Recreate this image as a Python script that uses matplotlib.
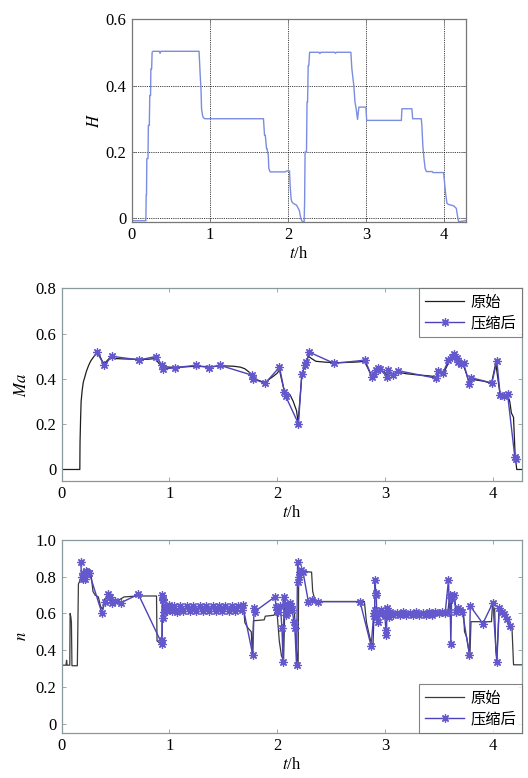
import matplotlib
matplotlib.use("Agg")
import matplotlib.pyplot as plt

# ── Fuentes ────────────────────────────────────────────────────────────────
plt.rcParams["font.family"] = ["Liberation Serif", "Noto Sans CJK SC"]
plt.rcParams["mathtext.fontset"] = "stix"
plt.rcParams["font.size"] = 12

# ── Datos: H (altura) ───────────────────────────────────────────────────────
h_t = [0.00, 0.178, 0.182, 0.186, 0.190, 0.205, 0.210, 0.222, 0.228, 0.238,
       0.242, 0.252, 0.258, 0.270, 0.350, 0.360, 0.370, 0.860, 0.875, 0.885,
       0.892, 0.905, 0.915, 0.935, 1.686, 1.700, 1.710, 1.725, 1.732, 1.748,
       1.755, 1.772, 1.964, 1.985, 2.020, 2.028, 2.040, 2.050, 2.070, 2.110,
       2.145, 2.165, 2.185, 2.208, 2.214, 2.220, 2.238, 2.245, 2.252, 2.260,
       2.268, 2.278, 2.400, 2.410, 2.420, 2.600, 2.610, 2.620, 2.807, 2.820,
       2.835, 2.845, 2.860, 2.875, 2.893, 2.910, 2.935, 3.000, 3.010, 3.025,
       3.455, 3.462, 3.590, 3.600, 3.710, 3.718, 3.730, 3.745, 3.760, 3.776,
       3.850, 3.860, 3.997, 4.012, 4.025, 4.040, 4.060, 4.125, 4.160, 4.180,
       4.190, 4.280]
h_val = [-0.007, -0.007, 0.07, 0.07, 0.18, 0.18, 0.28, 0.28, 0.37, 0.37,
         0.45, 0.45, 0.50, 0.503, 0.503, 0.497, 0.503, 0.503, 0.43, 0.39,
         0.33, 0.31, 0.303, 0.300, 0.300, 0.25, 0.25, 0.21, 0.21, 0.19,
         0.15, 0.140, 0.140, 0.143, 0.143, 0.10, 0.06, 0.05, 0.045, 0.040,
         0.025, 0.0, -0.01, -0.01, 0.05, 0.20, 0.20, 0.35, 0.35, 0.46,
         0.46, 0.50, 0.50, 0.496, 0.50, 0.50, 0.497, 0.50, 0.50, 0.45,
         0.42, 0.40, 0.35, 0.33, 0.298, 0.335, 0.335, 0.335, 0.295, 0.295,
         0.295, 0.33, 0.33, 0.30, 0.30, 0.28, 0.22, 0.18, 0.15, 0.141,
         0.141, 0.138, 0.138, 0.10, 0.07, 0.045, 0.042, 0.038, 0.03, 0.0,
         -0.01, -0.007]

# ── Datos: Ma original / comprimido ─────────────────────────────────────────
ma_t = [0.000, 0.168, 0.170, 0.175, 0.180, 0.190, 0.200, 0.215, 0.230, 0.250,
        0.270, 0.300, 0.325, 0.350, 0.380, 0.400, 0.450, 0.500, 0.600, 0.700,
        0.800, 0.870, 0.900, 0.935, 1.000, 1.100, 1.200, 1.300, 1.400, 1.500,
        1.600, 1.660, 1.700, 1.740, 1.770, 1.820, 1.889, 1.930, 1.960, 2.000,
        2.022, 2.040, 2.060, 2.080, 2.120, 2.150, 2.180, 2.195, 2.210, 2.230,
        2.260, 2.290, 2.320, 2.360, 2.450, 2.550, 2.650, 2.750, 2.810, 2.840,
        2.870, 2.900, 2.930, 2.960, 3.000, 3.020, 3.050, 3.080, 3.120, 3.200,
        3.300, 3.400, 3.480, 3.500, 3.540, 3.590, 3.640, 3.670, 3.700, 3.730,
        3.760, 3.785, 3.800, 3.850, 3.920, 3.990, 4.030, 4.050, 4.070, 4.100,
        4.140, 4.160, 4.175, 4.195, 4.210, 4.225, 4.280]
ma_raw = [0.0, 0.0, 0.12, 0.22, 0.30, 0.35, 0.385, 0.41, 0.435, 0.46,
          0.48, 0.50, 0.515, 0.505, 0.475, 0.47, 0.495, 0.49, 0.488, 0.487,
          0.487, 0.49, 0.47, 0.455, 0.452, 0.452, 0.455, 0.455, 0.455, 0.458,
          0.456, 0.452, 0.445, 0.43, 0.41, 0.395, 0.383, 0.40, 0.41, 0.425,
          0.44, 0.40, 0.36, 0.335, 0.33, 0.30, 0.26, 0.21, 0.30, 0.42,
          0.46, 0.50, 0.49, 0.478, 0.474, 0.472, 0.473, 0.475, 0.478, 0.45,
          0.42, 0.42, 0.445, 0.44, 0.43, 0.415, 0.43, 0.42, 0.43, 0.423,
          0.418, 0.414, 0.41, 0.43, 0.42, 0.47, 0.505, 0.49, 0.47, 0.46,
          0.42, 0.38, 0.40, 0.395, 0.39, 0.38, 0.47, 0.40, 0.33, 0.325,
          0.33, 0.30, 0.25, 0.23, 0.06, 0.0, 0.0]

mac_t = [0.325, 0.396, 0.464, 0.721, 0.873, 0.935, 0.940, 1.053, 1.245, 1.368,
         1.471, 1.771, 1.776, 1.889, 2.022, 2.068, 2.080, 2.198, 2.229, 2.260,
         2.269, 2.300, 2.529, 2.817, 2.879, 2.901, 2.920, 2.938, 2.957, 3.019,
         3.034, 3.080, 3.118, 3.477, 3.498, 3.539, 3.591, 3.622, 3.638, 3.669,
         3.684, 3.709, 3.731, 3.783, 3.799, 3.994, 4.040, 4.071, 4.102, 4.139,
         4.207, 4.220]
mac_val = [0.52, 0.46, 0.50, 0.484, 0.499, 0.46, 0.443, 0.45, 0.46, 0.45,
           0.46, 0.416, 0.40, 0.381, 0.452, 0.342, 0.323, 0.202, 0.421, 0.46,
           0.475, 0.518, 0.469, 0.483, 0.409, 0.421, 0.441, 0.45, 0.444, 0.409,
           0.441, 0.419, 0.437, 0.403, 0.435, 0.426, 0.483, 0.497, 0.512, 0.494,
           0.477, 0.465, 0.471, 0.379, 0.406, 0.382, 0.48, 0.328, 0.323, 0.335,
           0.055, 0.047]

# ── Datos: n original / comprimido ──────────────────────────────────────────
n_t = [0.000, 0.040, 0.045, 0.050, 0.075, 0.078, 0.085, 0.090, 0.095, 0.145,
       0.155, 0.170, 0.190, 0.220, 0.240, 0.270, 0.290, 0.310, 0.340, 0.360,
       0.380, 0.400, 0.430, 0.450, 0.520, 0.550, 0.580, 0.700, 0.880, 0.885,
       0.930, 0.935, 0.940, 0.950, 1.000, 1.300, 1.690, 1.700, 1.730, 1.760,
       1.770, 1.780, 1.880, 1.890, 1.970, 1.980, 2.000, 2.020, 2.040, 2.060,
       2.070, 2.100, 2.130, 2.160, 2.170, 2.180, 2.195, 2.200, 2.220, 2.320,
       2.330, 2.350, 2.370, 2.810, 2.830, 2.860, 2.870, 2.890, 2.900, 2.930,
       2.950, 3.000, 3.020, 3.050, 3.550, 3.580, 3.600, 3.650, 3.660, 3.730,
       3.740, 3.760, 3.780, 3.790, 3.800, 3.990, 4.000, 4.020, 4.030, 4.040,
       4.060, 4.100, 4.130, 4.160, 4.180, 4.195, 4.280]
n_raw = [0.318, 0.318, 0.345, 0.318, 0.318, 0.600, 0.580, 0.550, 0.315, 0.315,
         0.760, 0.780, 0.800, 0.810, 0.830, 0.825, 0.720, 0.700, 0.690, 0.640,
         0.620, 0.680, 0.685, 0.670, 0.668, 0.680, 0.690, 0.695, 0.695, 0.450,
         0.430, 0.700, 0.620, 0.640, 0.625, 0.628, 0.630, 0.550, 0.520, 0.500,
         0.380, 0.560, 0.565, 0.585, 0.590, 0.600, 0.600, 0.450, 0.370, 0.340,
         0.600, 0.620, 0.640, 0.620, 0.500, 0.400, 0.320, 0.800, 0.830, 0.825,
         0.720, 0.675, 0.665, 0.665, 0.550, 0.470, 0.450, 0.420, 0.600, 0.620,
         0.600, 0.610, 0.580, 0.600, 0.600, 0.590, 0.680, 0.680, 0.620, 0.620,
         0.500, 0.470, 0.400, 0.370, 0.555, 0.555, 0.650, 0.620, 0.400, 0.350,
         0.620, 0.600, 0.580, 0.530, 0.530, 0.320, 0.320]

nc_t = [0.176, 0.185, 0.195, 0.201, 0.210, 0.217, 0.225, 0.238, 0.250, 0.257,
        0.372, 0.400, 0.427, 0.445, 0.464, 0.495, 0.548, 0.712, 0.929, 0.932,
        0.935, 0.938, 0.941, 0.944, 0.950, 0.960, 0.980, 1.000, 1.020, 1.040,
        1.070, 1.100, 1.130, 1.160, 1.190, 1.220, 1.250, 1.280, 1.310, 1.340,
        1.370, 1.400, 1.430, 1.460, 1.490, 1.520, 1.550, 1.580, 1.610, 1.640,
        1.670, 1.680, 1.774, 1.786, 1.790, 1.981, 1.990, 2.000, 2.012, 2.030,
        2.045, 2.055, 2.065, 2.070, 2.080, 2.090, 2.100, 2.115, 2.125, 2.140,
        2.155, 2.165, 2.180, 2.190, 2.195, 2.200, 2.210, 2.220, 2.240, 2.290,
        2.320, 2.380, 2.770, 2.873, 2.895, 2.900, 2.905, 2.910, 2.915, 2.920,
        2.925, 2.930, 2.940, 2.950, 2.960, 2.975, 3.000, 3.010, 3.015, 3.020,
        3.030, 3.040, 3.050, 3.080, 3.110, 3.140, 3.170, 3.200, 3.230, 3.260,
        3.290, 3.320, 3.350, 3.380, 3.410, 3.440, 3.470, 3.500, 3.530, 3.560,
        3.591, 3.600, 3.605, 3.613, 3.620, 3.640, 3.660, 3.680, 3.700, 3.720,
        3.786, 3.793, 3.910, 4.003, 4.040, 4.062, 4.087, 4.108, 4.133, 4.164]
nc_val = [0.882, 0.800, 0.790, 0.818, 0.800, 0.790, 0.830, 0.827, 0.820, 0.818,
          0.604, 0.660, 0.704, 0.690, 0.655, 0.667, 0.658, 0.704, 0.436, 0.455,
          0.700, 0.680, 0.573, 0.673, 0.610, 0.640, 0.615, 0.645, 0.612, 0.640,
          0.610, 0.640, 0.615, 0.638, 0.612, 0.640, 0.615, 0.638, 0.612, 0.640,
          0.615, 0.638, 0.612, 0.640, 0.615, 0.638, 0.612, 0.640, 0.615, 0.640,
          0.620, 0.645, 0.373, 0.627, 0.609, 0.691, 0.636, 0.618, 0.610, 0.640,
          0.518, 0.336, 0.691, 0.650, 0.591, 0.600, 0.636, 0.655, 0.640, 0.620,
          0.555, 0.518, 0.318, 0.882, 0.773, 0.800, 0.827, 0.836, 0.827, 0.664,
          0.673, 0.664, 0.664, 0.422, 0.585, 0.600, 0.620, 0.782, 0.709, 0.700,
          0.600, 0.585, 0.555, 0.600, 0.620, 0.600, 0.585, 0.509, 0.482, 0.627,
          0.600, 0.580, 0.610, 0.590, 0.605, 0.592, 0.608, 0.590, 0.605, 0.592,
          0.608, 0.590, 0.605, 0.592, 0.608, 0.590, 0.610, 0.600, 0.608, 0.600,
          0.782, 0.610, 0.700, 0.432, 0.680, 0.700, 0.610, 0.630, 0.620, 0.610,
          0.373, 0.640, 0.545, 0.658, 0.336, 0.627, 0.609, 0.596, 0.567, 0.531]

# ── Estilo ──────────────────────────────────────────────────────────────────
AZUL_H = "#7b8de0"
MORADO = "#4d42b8"
MARCA_COLOR = "#6459cc"
NEGRO = "#1e1e1e"
MARCA = (8, 2, 0)
LEYENDA = {"family": ["Noto Sans CJK SC"], "size": 11}


def estilo_ejes(ax, color_borde):
    for s in ax.spines.values():
        s.set_color(color_borde)
        s.set_linewidth(0.9)
    ax.tick_params(direction="in", length=3, width=0.6, color=color_borde,
                   top=True, right=True, labelsize=12, pad=4)


def leyenda(ax, loc):
    leg = ax.legend(loc=loc, borderaxespad=0, fancybox=False,
                    edgecolor="#666666", handlelength=2.6, labelspacing=0.25,
                    borderpad=0.35, handletextpad=0.4, prop=LEYENDA)
    leg.get_frame().set_linewidth(0.8)
    return leg


fig = plt.figure(figsize=(5.28, 7.78), dpi=100)

# ── Panel H ─────────────────────────────────────────────────────────────────
ax1 = fig.add_axes([0.250, 0.715, 0.632, 0.2605])
ax1.plot(h_t, h_val, color=AZUL_H, lw=1.0)
ax1.set_xlim(0, 4.28)
ax1.set_ylim(-0.01, 0.6)
ax1.set_xticks([0, 1, 2, 3, 4])
ax1.set_yticks([0, 0.2, 0.4, 0.6])
ax1.set_yticklabels(["0", "0.2", "0.4", "0.6"])
ax1.grid(True, color="black", ls=(0, (1, 1.2)), lw=0.6)
estilo_ejes(ax1, "#777777")
ax1.set_xlabel("$t$/h", fontsize=12, labelpad=2)
ax1.set_ylabel("$H$", fontsize=12, labelpad=2)

# ── Panel Ma ────────────────────────────────────────────────────────────────
ax2 = fig.add_axes([0.1169, 0.382, 0.871, 0.2473])
ax2.plot(ma_t, ma_raw, color=NEGRO, lw=0.9, label="原始")
ax2.plot(mac_t, mac_val, color=MORADO, lw=1.0, marker=MARCA, ms=6, mew=0.9,
         mec=MARCA_COLOR, label="压缩后")
ax2.set_xlim(0, 4.27)
ax2.set_ylim(-0.05, 0.8)
ax2.set_xticks([0, 1, 2, 3, 4])
ax2.set_yticks([0, 0.2, 0.4, 0.6, 0.8])
ax2.set_yticklabels(["0", "0.2", "0.4", "0.6", "0.8"])
estilo_ejes(ax2, "#8a9a9a")
ax2.set_xlabel("$t$/h", fontsize=12, labelpad=2)
ax2.set_ylabel("$Ma$", fontsize=12, labelpad=4)
leyenda(ax2, "upper right")

# ── Panel n ─────────────────────────────────────────────────────────────────
ax3 = fig.add_axes([0.1169, 0.0582, 0.871, 0.2477])
ax3.plot(n_t, n_raw, color="#3a3a3a", lw=0.9, label="原始")
ax3.plot(nc_t, nc_val, color=MORADO, lw=1.0, marker=MARCA, ms=6, mew=0.9,
         mec=MARCA_COLOR, label="压缩后")
ax3.set_xlim(0, 4.27)
ax3.set_ylim(-0.05, 1.0)
ax3.set_xticks([0, 1, 2, 3, 4])
ax3.set_yticks([0, 0.2, 0.4, 0.6, 0.8, 1.0])
ax3.set_yticklabels(["0", "0.2", "0.4", "0.6", "0.8", "1.0"])
estilo_ejes(ax3, "#8a9a9a")
ax3.set_xlabel("$t$/h", fontsize=12, labelpad=2)
ax3.set_ylabel("$n$", fontsize=12, labelpad=4)
leyenda(ax3, "lower right")

fig.savefig("out.png", dpi=100)
